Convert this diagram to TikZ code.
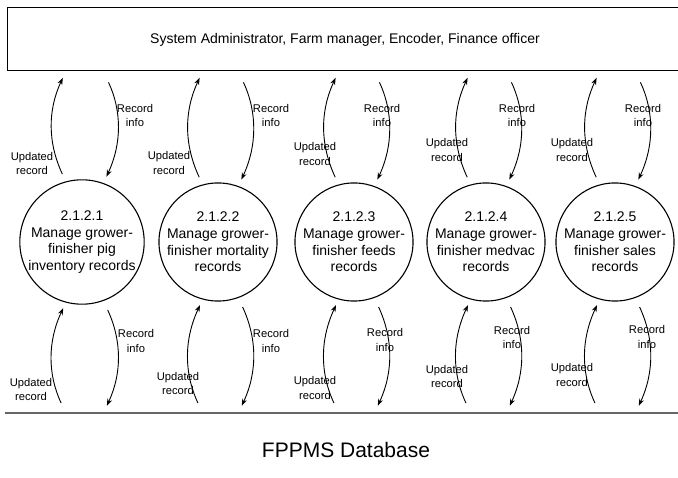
\documentclass[tikz,border=0pt]{standalone}
\usepackage{fontspec}
\setmainfont{Liberation Sans}
\usepackage{xcolor}
\colorlet{colorStore}{black!60}
\usetikzlibrary{arrows.meta, positioning}
\tikzset{
  proc/.style={draw, circle, line width=1.1pt, minimum size=118pt, inner sep=0pt, align=center, font=\fontsize{14}{16.7}\selectfont},
  entity/.style={draw, line width=1pt, minimum width=676pt, minimum height=63pt, inner sep=0pt, font=\fontsize{14}{16}\selectfont},
  lbl/.style={align=center, inner sep=0pt, font=\fontsize{11.2}{14.5}\selectfont},
  flow/.style={->, line width=0.9pt, bend left=25},
}

\begin{document}
\begin{tikzpicture}[x=1pt, y=-1pt, >={Stealth[length=7pt, width=5pt]}]
\useasboundingbox (0,0) rectangle (678,478);
\node[entity] (actors) at (345,39.5) {System Administrator, Farm manager, Encoder, Finance officer};
\node[proc] (p1) at (82,242) {2.1.2.1\\Manage grower-\\finisher pig\\inventory records};
\node[proc] (p2) at (218,242) {2.1.2.2\\Manage grower-\\finisher mortality\\records};
\node[proc] (p3) at (354,242) {2.1.2.3\\Manage grower-\\finisher feeds\\records};
\node[proc] (p4) at (486,242) {2.1.2.4\\Manage grower-\\finisher medvac\\records};
\node[proc] (p5) at (615,242) {2.1.2.5\\Manage grower-\\finisher sales\\records};
% data store
\coordinate (dbL) at (5,413);
\coordinate (dbR) at (678,413);
\draw[colorStore, line width=2pt] (dbL) -- (dbR);
\node[font=\fontsize{21}{24}\selectfont] (db) at (346,450) {FPPMS Database};
% flows to the entity
\draw[flow, shorten <=8pt, shorten >=7pt] (p1.105) to (p1.105 |- actors.south);
\draw[flow, shorten <=12pt, shorten >=7pt] (p1.70 |- actors.south) to (p1.70);
\draw[flow, shorten <=8pt, shorten >=7pt] (p2.105) to (p2.105 |- actors.south);
\draw[flow, shorten <=12pt, shorten >=7pt] (p2.70 |- actors.south) to (p2.70);
\draw[flow, shorten <=8pt, shorten >=7pt] (p3.105) to (p3.105 |- actors.south);
\draw[flow, shorten <=12pt, shorten >=7pt] (p3.70 |- actors.south) to (p3.70);
\draw[flow, shorten <=8pt, shorten >=7pt] (p4.105) to (p4.105 |- actors.south);
\draw[flow, shorten <=12pt, shorten >=7pt] (p4.70 |- actors.south) to (p4.70);
\draw[flow, shorten <=8pt, shorten >=7pt] (p5.105) to (p5.105 |- actors.south);
\draw[flow, shorten <=12pt, shorten >=7pt] (p5.70 |- actors.south) to (p5.70);
% flows to the data store
\draw[flow, shorten <=11pt, shorten >=6pt] (p1.255 |- dbL) to (p1.255);
\draw[flow, shorten <=10pt, shorten >=8pt] (p1.290) to (p1.290 |- dbL);
\draw[flow, shorten <=11pt, shorten >=6pt] (p2.255 |- dbL) to (p2.255);
\draw[flow, shorten <=10pt, shorten >=8pt] (p2.290) to (p2.290 |- dbL);
\draw[flow, shorten <=11pt, shorten >=6pt] (p3.255 |- dbL) to (p3.255);
\draw[flow, shorten <=10pt, shorten >=8pt] (p3.290) to (p3.290 |- dbL);
\draw[flow, shorten <=11pt, shorten >=6pt] (p4.255 |- dbL) to (p4.255);
\draw[flow, shorten <=10pt, shorten >=8pt] (p4.290) to (p4.290 |- dbL);
\draw[flow, shorten <=11pt, shorten >=6pt] (p5.255 |- dbL) to (p5.255);
\draw[flow, shorten <=10pt, shorten >=8pt] (p5.290) to (p5.290 |- dbL);
% labels, upper row
\node[lbl] (r1t) at (135,115.5) {Record\\info};
\node[lbl] (u1t) at (32,163.5) {Updated\\record};
\node[lbl] (r2t) at (271,115.5) {Record\\info};
\node[lbl] (u2t) at (169,163) {Updated\\record};
\node[lbl] (r3t) at (382,115.5) {Record\\info};
\node[lbl] (u3t) at (315,154) {Updated\\record};
\node[lbl] (r4t) at (517,115.5) {Record\\info};
\node[lbl] (u4t) at (447,150) {Updated\\record};
\node[lbl] (r5t) at (643,115.5) {Record\\info};
\node[lbl] (u5t) at (572,150) {Updated\\record};
% labels, lower row
\node[lbl] (r1b) at (136,341) {Record\\info};
\node[lbl] (u1b) at (31,389.5) {Updated\\record};
\node[lbl] (r2b) at (271,341) {Record\\info};
\node[lbl] (u2b) at (178,383.5) {Updated\\record};
\node[lbl] (r3b) at (385,340) {Record\\info};
\node[lbl] (u3b) at (315,388) {Updated\\record};
\node[lbl] (r4b) at (512,337.5) {Record\\info};
\node[lbl] (u4b) at (447,376.5) {Updated\\record};
\node[lbl] (r5b) at (647,337) {Record\\info};
\node[lbl] (u5b) at (572,375) {Updated\\record};
\end{tikzpicture}
\end{document}
